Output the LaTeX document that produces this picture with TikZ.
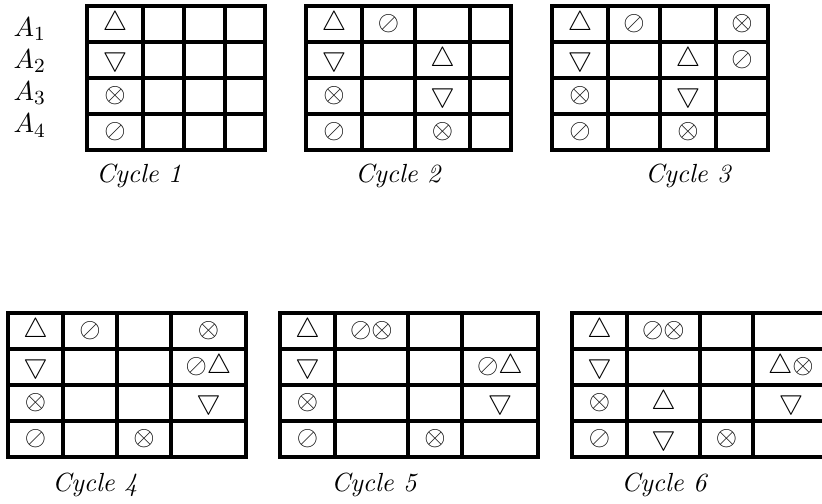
\documentclass[tikz,border=0pt]{standalone}
\usepackage{amsmath}

\newcommand{\symup}{\bigtriangleup}
\newcommand{\symdn}{\bigtriangledown}
\newcommand{\symot}{\otimes}
\newcommand{\symsl}{\oslash}

\begin{document}
\begin{tikzpicture}[x=0.4pt, y=-0.4pt,
    font=\fontsize{11}{13}\selectfont,
    gridline/.style={line width=1.8pt, line cap=rect},
    cellsym/.style={inner sep=0pt},
    rowlabel/.style={anchor=base west, inner sep=0pt},
    cyclelabel/.style={font=\fontsize{10.5}{12}\selectfont\itshape}]
    \useasboundingbox (0,0) rectangle (822,503);

    % the six grids: name / column lines / top edge
    \foreach \g/\xa/\xb/\xc/\xd/\xe/\yt in {c1/87/143/184/225/265/6, c2/306/362/415/470/511/6, c3/552/608/660/716/768/6, c4/8/63/117/171/246/313, c5/280/335/408/462/538/313, c6/572/627/700/753/829/313} {
        \foreach \x in {\xa,\xb,\xc,\xd,\xe}
            \draw[gridline] (\x,\yt) -- (\x,\yt+144);
        \foreach \r in {0,...,4}
            \draw[gridline] (\xa,\yt+36*\r) -- (\xe,\yt+36*\r);
        \foreach \r in {1,...,4} {
            \coordinate (\g-\r-1) at ({(\xa+\xb)/2},{\yt+36*\r-18});
            \coordinate (\g-\r-2) at ({(\xb+\xc)/2},{\yt+36*\r-18});
            \coordinate (\g-\r-3) at ({(\xc+\xd)/2},{\yt+36*\r-18});
            \coordinate (\g-\r-4) at ({(\xd+\xe)/2},{\yt+36*\r-18});
        }
    }

    % cell contents
    \foreach \g/\r/\c/\s in {
        c1/1/1/\symup, c1/2/1/\symdn, c1/3/1/\symot, c1/4/1/\symsl,
        c2/1/1/\symup, c2/1/2/\symsl, c2/2/1/\symdn, c2/2/3/\symup,
        c2/3/1/\symot, c2/3/3/\symdn, c2/4/1/\symsl, c2/4/3/\symot,
        c3/1/1/\symup, c3/1/2/\symsl, c3/1/4/\symot, c3/2/1/\symdn,
        c3/2/3/\symup, c3/2/4/\symsl, c3/3/1/\symot, c3/3/3/\symdn,
        c3/4/1/\symsl, c3/4/3/\symot,
        c4/1/1/\symup, c4/1/2/\symsl, c4/1/4/\symot, c4/2/1/\symdn,
        c4/2/4/\symsl\symup, c4/3/1/\symot, c4/3/4/\symdn,
        c4/4/1/\symsl, c4/4/3/\symot,
        c5/1/1/\symup, c5/1/2/\symsl\symot, c5/2/1/\symdn,
        c5/2/4/\symsl\symup, c5/3/1/\symot, c5/3/4/\symdn,
        c5/4/1/\symsl, c5/4/3/\symot,
        c6/1/1/\symup, c6/1/2/\symsl\symot, c6/2/1/\symdn,
        c6/2/4/\symup\symot, c6/3/1/\symot, c6/3/2/\symup, c6/3/4/\symdn,
        c6/4/1/\symsl, c6/4/2/\symdn, c6/4/3/\symot}
        \node[cellsym] (\g-s\r\c) at (\g-\r-\c) {$\s$};

    % agents
    \foreach \i in {1,...,4}
        \node[rowlabel] (a\i) at (13,{36+32.3*(\i-1)}) {$A_\i$};

    % captions
    \node[cyclelabel] (cyc1) at (139,176) {Cycle 1};
    \node[cyclelabel] (cyc2) at (398,176) {Cycle 2};
    \node[cyclelabel] (cyc3) at (688,176) {Cycle 3};
    \node[cyclelabel] (cyc4) at (95,485) {Cycle 4};
    \node[cyclelabel] (cyc5) at (374,485) {Cycle 5};
    \node[cyclelabel] (cyc6) at (664,485) {Cycle 6};
\end{tikzpicture}
\end{document}
